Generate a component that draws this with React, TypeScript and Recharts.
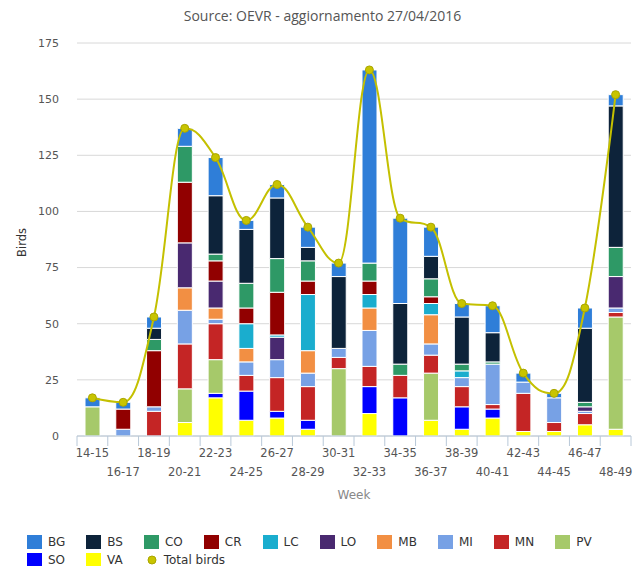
import React from 'react';
import { ComposedChart, Bar, Line, XAxis, YAxis, CartesianGrid } from 'recharts';

const WEEKS = ['14-15','16-17','18-19','20-21','22-23','24-25','26-27','28-29','30-31','32-33','34-35','36-37','38-39','40-41','42-43','44-45','46-47','48-49'];

const BG = [4,3,5,8,17,4,6,9,6,86,38,13,6,12,4,2,9,5];
const BS = [0,0,5,0,26,24,27,6,32,0,27,10,21,13,0,0,33,63];
const CO = [0,0,5,16,3,11,15,9,0,8,5,8,3,1,0,0,2,13];
const CR = [0,9,25,27,9,7,19,6,0,6,0,3,0,0,0,0,0,0];
const LC = [0,0,0,0,0,11,1,25,0,6,0,5,3,0,0,0,0,0];
const LO = [0,0,0,20,12,0,10,0,0,0,0,0,0,0,0,0,2,14];
const MB = [0,0,0,10,5,6,0,10,0,10,0,13,0,0,0,0,0,0];
const MI = [0,3,2,15,2,6,8,6,4,16,0,5,4,18,5,11,1,2];
const MN = [0,0,11,20,16,7,15,15,5,9,10,8,9,2,17,4,5,2];
const PV = [13,0,0,15,15,0,0,0,30,0,0,21,0,0,0,0,0,50];
const SO = [0,0,0,0,2,13,3,4,0,12,17,0,10,4,0,0,0,0];
const VA = [0,0,0,6,17,7,8,3,0,10,0,7,3,8,2,2,5,3];

const Y_TICKS = [0,25,50,75,100,125,150,175];

const SERIES = [
  { key: 'BG', color: '#2f7ed8', values: BG },
  { key: 'BS', color: '#0d233a', values: BS },
  { key: 'CO', color: '#2e9966', values: CO },
  { key: 'CR', color: '#910000', values: CR },
  { key: 'LC', color: '#1aadce', values: LC },
  { key: 'LO', color: '#492970', values: LO },
  { key: 'MB', color: '#f28f43', values: MB },
  { key: 'MI', color: '#77a1e5', values: MI },
  { key: 'MN', color: '#c42525', values: MN },
  { key: 'PV', color: '#a6c96a', values: PV },
  { key: 'SO', color: '#0000ff', values: SO },
  { key: 'VA', color: '#ffff00', values: VA },
];
const STACK_ORDER = [...SERIES].reverse();

const data = WEEKS.map((w, i) => {
  const row: any = { week: w };
  let t = 0;
  SERIES.forEach((s) => { row[s.key] = s.values[i]; t += s.values[i]; });
  row.total = t;
  return row;
});

const W = 635;
const H = 566;
const YW = 77;
const MARGIN = { top: 43, right: 4, left: 0, bottom: 70 };
const BAND = (W - YW - MARGIN.right) / WEEKS.length;
const FONT = '"DejaVu Sans", sans-serif';
const AXIS_COLOR = '#b8c8d8';
const LINE_COLOR = '#c4c000';

// Highcharts-style spline curve (smoothing 1.5)
function splineCurve(context: any) {
  let xs: number[] = [];
  let ys: number[] = [];
  return {
    areaStart() {},
    areaEnd() {},
    lineStart() { xs = []; ys = []; },
    point(x: number, y: number) { xs.push(+x); ys.push(+y); },
    lineEnd() {
      const n = xs.length;
      if (!n) return;
      const sm = 1.5;
      const den = sm + 1;
      const lcx: number[] = xs.slice();
      const lcy: number[] = ys.slice();
      const rcx: number[] = xs.slice();
      const rcy: number[] = ys.slice();
      for (let i = 1; i < n - 1; i++) {
        const px = xs[i], py = ys[i];
        const lx = xs[i - 1], ly = ys[i - 1];
        const nx = xs[i + 1], ny = ys[i + 1];
        let lX = (sm * px + lx) / den;
        let lY = (sm * py + ly) / den;
        let rX = (sm * px + nx) / den;
        let rY = (sm * py + ny) / den;
        let corr = 0;
        if (rX !== lX) corr = ((rY - lY) * (rX - px)) / (rX - lX) + py - rY;
        lY += corr;
        rY += corr;
        if (lY > ly && lY > py) { lY = Math.max(ly, py); rY = 2 * py - lY; }
        else if (lY < ly && lY < py) { lY = Math.min(ly, py); rY = 2 * py - lY; }
        if (rY > ny && rY > py) { rY = Math.max(ny, py); lY = 2 * py - rY; }
        else if (rY < ny && rY < py) { rY = Math.min(ny, py); lY = 2 * py - rY; }
        lcx[i] = lX; lcy[i] = lY; rcx[i] = rX; rcy[i] = rY;
      }
      context.moveTo(xs[0], ys[0]);
      for (let i = 1; i < n; i++) {
        context.bezierCurveTo(rcx[i - 1], rcy[i - 1], lcx[i], lcy[i], xs[i], ys[i]);
      }
    },
  };
}

function WeekTick(props: any) {
  const { x, y, payload, index } = props;
  const row = index % 2;
  return (
    <g>
      <line x1={x - BAND / 2} x2={x - BAND / 2} y1={y} y2={y + 10} stroke={AXIS_COLOR} strokeWidth={1} />
      {index === WEEKS.length - 1 && (
        <line x1={x + BAND / 2} x2={x + BAND / 2} y1={y} y2={y + 10} stroke={AXIS_COLOR} strokeWidth={1} />
      )}
      <text x={x} y={y + (row === 0 ? 21 : 40)} textAnchor="middle" fontSize={11.5} fill="#555" fontFamily={FONT}>
        {payload.value}
      </text>
    </g>
  );
}

const legendRow1 = SERIES.slice(0, 10);
const legendRow2 = SERIES.slice(10);

function LegendItem({ label, color }: { label: string; color: string }) {
  return (
    <div style={{ display: 'flex', alignItems: 'center', marginRight: 21 }}>
      <div style={{ width: 15, height: 14, background: color, marginRight: 6 }} />
      <span style={{ fontSize: 12, color: '#333' }}>{label}</span>
    </div>
  );
}

export default function App() {
  return (
    <div style={{ position: 'absolute', left: 0, top: 0, width: W, height: H, background: '#fff', fontFamily: FONT }}>
      <div style={{ position: 'absolute', left: 5, top: 7, width: W, textAlign: 'center', fontSize: 14, color: '#555', lineHeight: '18px', fontFamily: '"Open Sans", sans-serif' }}>
        Source: OEVR - aggiornamento 27/04/2016
      </div>
      <ComposedChart width={W} height={H} data={data} margin={MARGIN} style={{ position: 'absolute', left: 0, top: 0 }}>
        <CartesianGrid horizontal vertical={false} stroke="#d8d8d8" strokeWidth={1} />
        <XAxis
          dataKey="week"
          interval={0}
          tickLine={false}
          tickSize={0}
          tickMargin={0}
          height={60}
          stroke={AXIS_COLOR}
          tick={<WeekTick />}
          label={{
            content: (p: any) => {
              const vb = p.viewBox;
              return (
                <text x={vb.x + vb.width / 2} y={vb.y + 63} textAnchor="middle" fontSize={12} fill="#888" fontFamily={FONT}>
                  Week
                </text>
              );
            },
          }}
        />
        <YAxis
          width={YW}
          domain={[0, 175]}
          ticks={Y_TICKS}
          axisLine={false}
          tickLine={false}
          tickSize={0}
          tickMargin={18}
          tick={{ fontSize: 11, fill: '#555', fontFamily: FONT }}
          label={{
            content: (p: any) => {
              const vb = p.viewBox;
              const cx = vb.x + 26;
              const cy = vb.y + vb.height / 2 + 3;
              return (
                <text x={cx} y={cy} transform={`rotate(-90 ${cx} ${cy})`} textAnchor="middle" fontSize={11.5} fill="#333" fontFamily={FONT}>
                  Birds
                </text>
              );
            },
          }}
        />
        {STACK_ORDER.map((s) => (
          <Bar key={s.key} dataKey={s.key} stackId="a" fill={s.color} stroke="#fff" strokeWidth={1} barSize={15} isAnimationActive={false} />
        ))}
        <Line
          type={splineCurve as any}
          dataKey="total"
          stroke={LINE_COLOR}
          strokeWidth={2}
          dot={{ r: 4, fill: '#c8c400', stroke: '#aaa600', strokeWidth: 1 }}
          isAnimationActive={false}
        />
      </ComposedChart>
      <div style={{ position: 'absolute', left: 27, top: 535, display: 'flex' }}>
        {legendRow1.map((s) => <LegendItem key={s.key} label={s.key} color={s.color} />)}
      </div>
      <div style={{ position: 'absolute', left: 27, top: 553, display: 'flex', alignItems: 'center' }}>
        {legendRow2.map((s) => <LegendItem key={s.key} label={s.key} color={s.color} />)}
        <div style={{ display: 'flex', alignItems: 'center' }}>
          <svg width={16} height={14} style={{ marginRight: 4 }}>
            <circle cx={8} cy={7} r={4} fill="#c8c400" stroke="#aaa600" strokeWidth={1} />
          </svg>
          <span style={{ fontSize: 12, color: '#333' }}>Total birds</span>
        </div>
      </div>
    </div>
  );
}
